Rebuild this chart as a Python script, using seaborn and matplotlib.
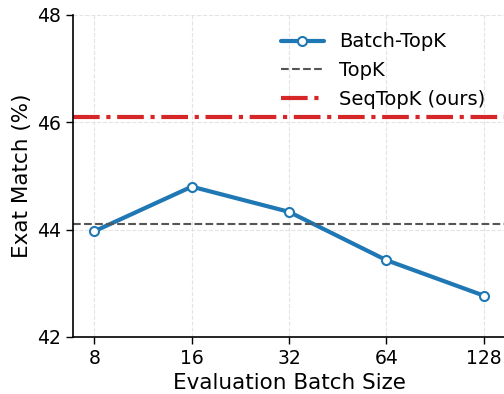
import numpy as np
import pandas as pd
import matplotlib
matplotlib.use("Agg")
import matplotlib.pyplot as plt
import seaborn as sns

# Data
batch_sizes = ["8", "16", "32", "64", "128"]
batch_topk = [43.97, 44.80, 44.33, 43.43, 42.77]
topk_value = 44.11
seqtopk_value = 46.09

sns.set_theme(style="ticks", rc={"text.color": "black", "axes.labelcolor": "black",
                                 "xtick.color": "black", "ytick.color": "black"})
plt.rcParams['font.family'] = ['DejaVu Sans']

df = pd.DataFrame({"pos": np.arange(len(batch_sizes)), "em": batch_topk})

fig = plt.figure(figsize=(5.04, 3.94), dpi=100)
ax = fig.add_axes([0.145, 0.145, 0.857, 0.817])

sns.lineplot(data=df, x="pos", y="em", ax=ax, color="#1f77b4", linewidth=3,
             marker="o", markersize=6.5, markerfacecolor="white",
             markeredgecolor="#1f77b4", markeredgewidth=1.5,
             label="Batch-TopK", sort=False)
ax.axhline(topk_value, color="#555555", linestyle="--", linewidth=1.5, label="TopK")
ax.axhline(seqtopk_value, color="#d62728", linestyle="-.", linewidth=3,
           label="SeqTopK (ours)")

ax.set_xlim(-0.22, 4.22)
ax.set_ylim(42, 48)
ax.set_xticks(df["pos"])
ax.set_xticklabels(batch_sizes)
ax.set_yticks([42, 44, 46, 48])
ax.tick_params(labelsize=13.5, length=5, width=1, colors="black")
ax.set_xlabel("Evaluation Batch Size", fontsize=15.5)
ax.set_ylabel("Exat Match (%)", fontsize=15.5)
ax.grid(True, linestyle="--", color="#dddddd", linewidth=0.8, alpha=0.8)
sns.despine(ax=ax)
for sp in ["left", "bottom"]:
    ax.spines[sp].set_color("black")
    ax.spines[sp].set_linewidth(1.2)

ax.legend(loc="upper right", bbox_to_anchor=(0.995, 1.0), frameon=False,
          fontsize=14, handlelength=2.2, labelspacing=0.5)

fig.savefig("out.png", dpi=100)
